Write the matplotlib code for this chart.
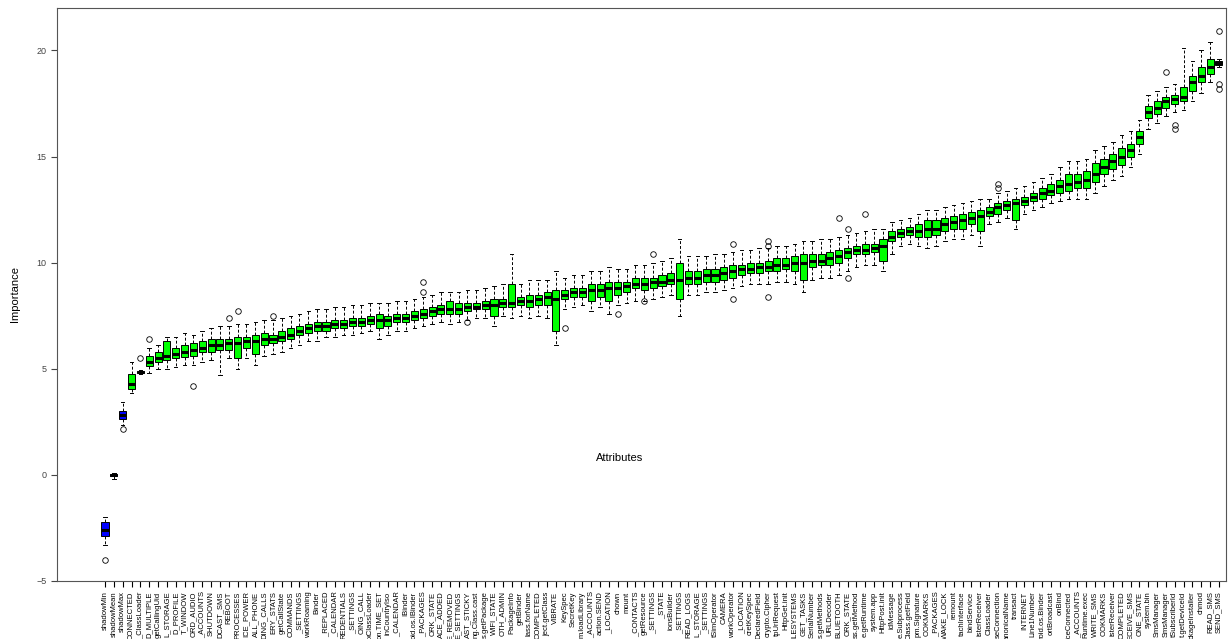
import matplotlib
matplotlib.use("Agg")
import matplotlib.pyplot as plt
import numpy as np

plt.rcParams["font.family"] = ["Liberation Sans", "DejaVu Sans"]

labels = ["shadowMin", "shadowMean", "shadowMax", "CONNECTED", "_ClassLoader", "D_MULTIPLE",
          "getCallingUid", "L_STORAGE", "D_PROFILE", "T_WINDOW", "ORD_AUDIO", "_ACCOUNTS",
          "SHUTDOWN", "DCAST_SMS", "REBOOT", "PROCESSES", "ICE_POWER", "ALL_PHONE", "DING_CALLS",
          "ERY_STATS", "getCallState", "COMMANDS", "_SETTINGS", "workRoaming", "Binder",
          "_REPLACED", "_CALENDAR", "REDENTIALS", "_SETTINGS", "OING_CALL", "xClassLoader",
          "on.TIME_SET", "inCountryIso", "_CALENDAR", "IBinder", "oid.os.IBinder", "_PACKAGES",
          "ORK_STATE", "ACE_ADDED", "E_REMOVED", "E_SETTINGS", "AST_STICKY", "ng.Class.cast",
          "s.getPackage", "WIFI_STATE", "OTH_ADMIN", "PackageInfo", "getBinder", "lass.forName",
          "COMPLETED", "ject.getClass", "VIBRATE", "KeySpec", "SecretKey", "m.loadLibrary",
          "_ACCOUNTS", "action.SEND", "_LOCATION", "chown", "mount", "_CONTACTS", "getResource",
          "_SETTINGS", "_STATE", "ionsBuilder", "_SETTINGS", "READ_LOGS", "L_STORAGE", "_SETTINGS",
          "tSimOperator", "CAMERA", "workOperator", "_LOCATION", "cretKeySpec", "DeclaredField",
          "crypto.Cipher", "tpUriRequest", "HttpGet.init", "ILESYSTEMS", "GET_TASKS",
          "SerialNumber", "s.getMethods", "URLDecoder", "BLUETOOTH", "ORK_STATE", "ss.getMethod",
          "e.getRuntime", "system.app", "HttpPost.init", "idMessage", "e.Subprocess",
          "Class.getField", "pm.Signature", "OOKMARKS", "_PACKAGES", "WAKE_LOCK", "remount",
          "tachInterface", "bindService", "isterReceiver", "ClassLoader", "seConnection",
          "anonicalName", "transact", "INTERNET", "Line1Number", "roid.os.Binder", "ortBroadcast",
          "onBind", "iceConnected", "_ACCOUNTS", "Runtime.exec", "WRITE_SMS", "OOKMARKS",
          "isterReceiver", "COMPLETED", "ECEIVE_SMS", "ONE_STATE", "system.bin", "SmsManager",
          "SmsManager", "tSubscriberId", "t.getDeviceId", "ckageInstaller", "chmod", "READ_SMS",
          "SEND_SMS"]

med = [-2.6, 0.0, 2.8, 4.3, 4.85, 5.3, 5.5, 5.6, 5.7, 5.8,
       5.9, 6.0, 6.1, 6.1, 6.2, 6.2, 6.3, 6.3, 6.4, 6.4,
       6.5, 6.6, 6.8, 6.9, 7.0, 7.0, 7.1, 7.1, 7.2, 7.2,
       7.3, 7.3, 7.3, 7.4, 7.4, 7.5, 7.6, 7.7, 7.8, 7.8,
       7.8, 7.9, 7.9, 8.0, 8.0, 8.1, 8.1, 8.2, 8.2, 8.3,
       8.4, 8.3, 8.5, 8.6, 8.6, 8.7, 8.7, 8.8, 8.8, 8.9,
       9.0, 9.0, 9.1, 9.1, 9.2, 9.2, 9.3, 9.3, 9.4, 9.4,
       9.5, 9.6, 9.7, 9.7, 9.8, 9.8, 9.9, 9.9, 10.0, 10.0,
       10.1, 10.1, 10.2, 10.3, 10.5, 10.6, 10.6, 10.7, 10.8, 11.2,
       11.4, 11.5, 11.5, 11.6, 11.6, 11.8, 11.9, 12.0, 12.1, 12.2,
       12.4, 12.6, 12.7, 12.8, 12.9, 13.1, 13.3, 13.4, 13.6, 13.7,
       13.8, 13.9, 14.2, 14.5, 14.8, 15.0, 15.3, 15.9, 17.1, 17.3,
       17.6, 17.7, 17.8, 18.5, 18.8, 19.2, 19.4]

q1 = [-2.9, -0.05, 2.65, 4.05, 4.8, 5.15, 5.3, 5.4, 5.5, 5.55,
      5.6, 5.8, 5.8, 5.9, 5.9, 5.5, 6.0, 5.7, 6.1, 6.2,
      6.3, 6.4, 6.6, 6.7, 6.8, 6.8, 6.9, 6.9, 7.0, 7.0,
      7.1, 6.9, 7.0, 7.2, 7.2, 7.3, 7.4, 7.5, 7.6, 7.6,
      7.6, 7.7, 7.8, 7.8, 7.5, 7.9, 7.9, 8.0, 7.9, 8.0,
      8.0, 6.8, 8.3, 8.4, 8.4, 8.2, 8.4, 8.2, 8.5, 8.6,
      8.8, 8.7, 8.8, 8.9, 9.0, 8.3, 9.0, 9.0, 9.1, 9.1,
      9.2, 9.3, 9.4, 9.5, 9.5, 9.6, 9.6, 9.7, 9.6, 9.2,
      9.8, 9.9, 9.9, 10.0, 10.2, 10.4, 10.4, 10.5, 10.1, 11.0,
      11.2, 11.3, 11.2, 11.2, 11.3, 11.5, 11.6, 11.6, 11.8, 11.5,
      12.2, 12.3, 12.5, 12.0, 12.7, 12.9, 13.0, 13.2, 13.3, 13.4,
      13.5, 13.5, 13.8, 14.2, 14.4, 14.6, 15.0, 15.6, 16.8, 17.0,
      17.3, 17.5, 17.6, 18.1, 18.5, 18.9, 19.3]

q3 = [-2.2, 0.05, 3.0, 4.75, 4.9, 5.6, 5.8, 6.3, 6.0, 6.1,
      6.2, 6.3, 6.4, 6.4, 6.4, 6.5, 6.5, 6.6, 6.7, 6.6,
      6.8, 6.9, 7.0, 7.1, 7.2, 7.2, 7.3, 7.3, 7.4, 7.4,
      7.5, 7.6, 7.5, 7.6, 7.6, 7.7, 7.8, 7.9, 8.0, 8.2,
      8.1, 8.1, 8.1, 8.2, 8.3, 8.3, 9.0, 8.4, 8.5, 8.5,
      8.6, 8.7, 8.7, 8.8, 8.8, 9.0, 9.0, 9.1, 9.1, 9.1,
      9.3, 9.3, 9.3, 9.4, 9.5, 10.0, 9.6, 9.6, 9.7, 9.7,
      9.8, 9.9, 9.9, 10.0, 10.0, 10.1, 10.2, 10.2, 10.3, 10.4,
      10.4, 10.4, 10.5, 10.6, 10.7, 10.8, 10.9, 10.9, 11.1, 11.5,
      11.6, 11.7, 11.8, 12.0, 12.0, 12.1, 12.2, 12.3, 12.4, 12.5,
      12.6, 12.8, 12.9, 13.0, 13.1, 13.3, 13.5, 13.7, 13.9, 14.2,
      14.2, 14.3, 14.7, 14.9, 15.1, 15.4, 15.6, 16.2, 17.4, 17.6,
      17.8, 17.9, 18.3, 18.8, 19.2, 19.6, 19.5]

lo = [-3.3, -0.2, 2.35, 3.85, 4.75, 4.8, 5.0, 5.0, 5.1, 5.2,
      5.2, 5.3, 5.4, 4.7, 5.5, 5.0, 5.5, 5.2, 5.6, 5.7,
      5.8, 6.0, 6.1, 6.3, 6.3, 6.5, 6.5, 6.6, 6.6, 6.7,
      6.8, 6.4, 6.6, 6.8, 6.8, 6.9, 7.0, 7.1, 7.2, 7.1,
      7.2, 7.3, 7.4, 7.4, 7.0, 7.5, 7.4, 7.5, 7.4, 7.5,
      7.4, 6.1, 7.8, 7.9, 8.0, 7.7, 7.9, 7.6, 8.0, 8.1,
      8.2, 8.2, 8.3, 8.4, 8.5, 7.5, 8.5, 8.5, 8.6, 8.6,
      8.7, 8.8, 8.9, 9.0, 9.0, 9.0, 9.1, 9.1, 9.0, 8.6,
      9.2, 9.3, 9.3, 9.4, 9.6, 9.8, 9.9, 9.9, 9.6, 10.4,
      10.8, 10.9, 10.8, 10.7, 10.8, 11.0, 11.1, 11.1, 11.3, 10.8,
      11.8, 11.9, 12.1, 11.6, 12.3, 12.5, 12.6, 12.8, 12.9, 13.0,
      13.0, 13.0, 13.3, 13.6, 13.9, 14.1, 14.5, 15.1, 16.3, 16.6,
      16.9, 17.1, 17.2, 17.6, 18.0, 18.5, 19.2]

hi = [-2.0, 0.1, 3.45, 5.3, 4.95, 6.0, 6.1, 6.5, 6.5, 6.7,
      6.6, 6.8, 6.9, 7.0, 7.0, 7.1, 7.1, 7.2, 7.3, 7.3,
      7.4, 7.5, 7.6, 7.7, 7.8, 7.8, 7.9, 7.9, 8.0, 8.0,
      8.1, 8.1, 8.1, 8.2, 8.2, 8.3, 8.4, 8.5, 8.6, 8.6,
      8.6, 8.7, 8.7, 8.8, 8.9, 9.0, 10.4, 9.0, 9.2, 9.2,
      9.2, 9.6, 9.3, 9.4, 9.4, 9.6, 9.6, 9.8, 9.7, 9.7,
      9.9, 9.9, 10.0, 10.1, 10.2, 11.1, 10.3, 10.3, 10.3, 10.4,
      10.4, 10.5, 10.6, 10.6, 10.7, 10.7, 10.8, 10.8, 10.9, 11.0,
      11.0, 11.1, 11.1, 11.2, 11.3, 11.4, 11.5, 11.6, 11.6, 11.9,
      12.0, 12.1, 12.3, 12.5, 12.5, 12.6, 12.7, 12.8, 12.9, 13.0,
      13.0, 13.3, 13.4, 13.5, 13.6, 13.8, 14.0, 14.2, 14.5, 14.8,
      14.8, 14.9, 15.3, 15.5, 15.7, 16.0, 16.2, 16.7, 17.9, 18.1,
      18.3, 18.4, 20.1, 19.5, 20.0, 20.4, 19.6]

# outliers by attribute index (1-based)
outliers = {1: [-4.0], 3: [2.15], 5: [5.5], 6: [6.4], 11: [4.2], 15: [7.4], 16: [7.7],
            20: [7.5], 37: [8.6, 9.1], 42: [7.2], 53: [6.9], 59: [7.6], 62: [8.2], 63: [10.4],
            72: [8.3, 10.9], 76: [8.4, 10.8, 11.0], 84: [12.1], 85: [11.6, 9.3], 87: [12.3],
            102: [13.7, 13.5], 121: [19.0], 122: [16.5, 16.3], 127: [20.9, 18.4, 18.2]}

colors = ["blue", "blue", "blue"] + ["#00ff00"] * (len(labels) - 3)

stats = []
for i in range(len(labels)):
    stats.append(dict(med=med[i], q1=q1[i], q3=q3[i], whislo=lo[i], whishi=hi[i],
                      fliers=outliers.get(i + 1, []), label=labels[i]))

fig = plt.figure(figsize=(12.31, 6.39), dpi=100)
ax = fig.add_axes([57 / 1231, 58 / 639, (1226 - 57) / 1231, (581 - 8) / 639])
pos = np.arange(1, len(labels) + 1)
bp = ax.bxp(stats, positions=pos, widths=0.8, patch_artist=True,
            medianprops=dict(color="black", linewidth=2.2),
            whiskerprops=dict(linestyle=(0, (3, 2)), linewidth=0.7),
            capprops=dict(linewidth=0.7), capwidths=0.4,
            boxprops=dict(linewidth=0.7),
            flierprops=dict(marker="o", markerfacecolor="none", markersize=4, markeredgewidth=0.6))
for patch, c in zip(bp["boxes"], colors):
    patch.set_facecolor(c)

ax.set_xlim(-4.43, 127.8)
ax.set_ylim(-5, 22.0)
ax.set_yticks([-5, 0, 5, 10, 15, 20])
ax.tick_params(axis="y", labelsize=6.5, length=4, colors="#444444")
ax.tick_params(axis="x", labelsize=5.5, length=4, rotation=90)
ax.set_xticks(pos)
ax.set_xticklabels(labels)
for s in ax.spines.values():
    s.set_color("#555555")
ax.set_ylabel("Importance", fontsize=8, labelpad=12)
fig.text(620 / 1231, 1 - 458 / 639, "Attributes", fontsize=8, ha="center", va="center")

fig.savefig("out.png", dpi=100)
